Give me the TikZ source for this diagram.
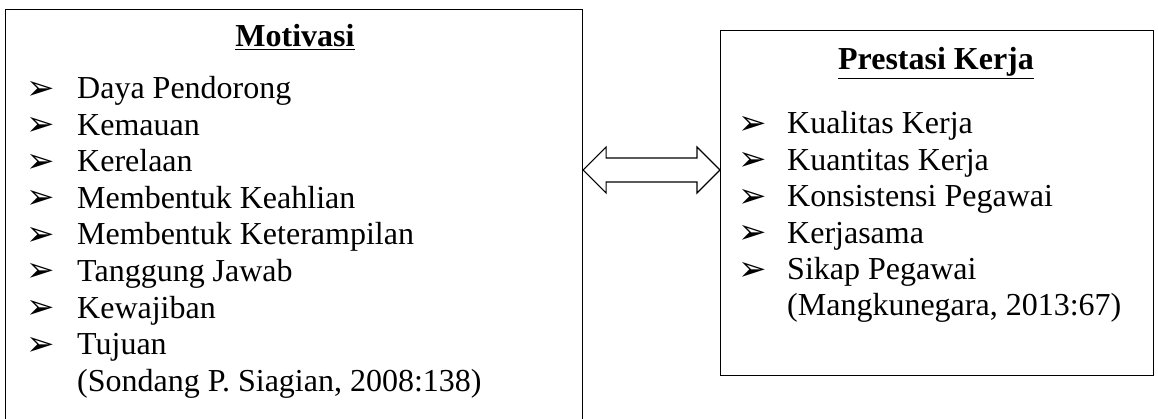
\documentclass[tikz,border=0pt]{standalone}
\usepackage{fontspec}
\setmainfont{Liberation Serif}
\newfontfamily\dvfont{DejaVu Sans}
\usetikzlibrary{calc}
\begin{document}
\begin{tikzpicture}[x=1pt,y=-1pt,
  box/.style={draw,line width=1.1pt,inner sep=0},
  item/.style={anchor=base west,inner sep=0,font=\fontsize{32}{38}\selectfont},
  bul/.style={anchor=base west,inner sep=0,font=\dvfont\bfseries\fontsize{34}{38}\selectfont},
  ttl/.style={anchor=base,inner sep=0,font=\bfseries\fontsize{32}{38}\selectfont}]
\useasboundingbox (0,0) rectangle (1158,419);
\node[box,minimum width=577pt,minimum height=430pt,anchor=north west] (L) at (5,9) {};
\node[box,minimum width=433pt,minimum height=345pt,anchor=north west] (R) at (720,30) {};
\node[ttl] (Lt) at (295,47) {\underline{Motivasi}};
\node[ttl] (Rt) at (936,70) {\underline{Prestasi Kerja}};
\foreach \t [count=\i from 0] in {Daya Pendorong,Kemauan,Kerelaan,Membentuk Keahlian,Membentuk Keterampilan,Tanggung Jawab,Kewajiban,Tujuan}{
  \node[bul] (lb\i) at (26,99.5+36.5*\i) {➢};
  \node[item] (li\i) at (77,99+36.5*\i) {\t};
}
\node[item] (lref) at (77,391) {(Sondang P. Siagian, 2008:138)};
\foreach \t [count=\i from 0] in {Kualitas Kerja,Kuantitas Kerja,Konsistensi Pegawai,Kerjasama,Sikap Pegawai}{
  \node[bul] (rb\i) at (738,134.5+36.4*\i) {➢};
  \node[item] (ri\i) at (787,134+36.4*\i) {\t};
}
\node[item] (rref) at (787,316) {(Mangkunegara, 2013:67)};
\coordinate (tl) at (L.north east |- 0,170);
\coordinate (tr) at (R.north west |- 0,170);
\draw[line width=1.1pt,line join=miter] (tl) -- ++(23,-23) -- ++(0,11) -- ($(tr)+(-23,-12)$) -- ++(0,-11) -- (tr)
  -- ++(-23,23) -- ++(0,-11) -- ($(tl)+(23,12)$) -- ++(0,11) -- cycle;
\end{tikzpicture}
\end{document}
